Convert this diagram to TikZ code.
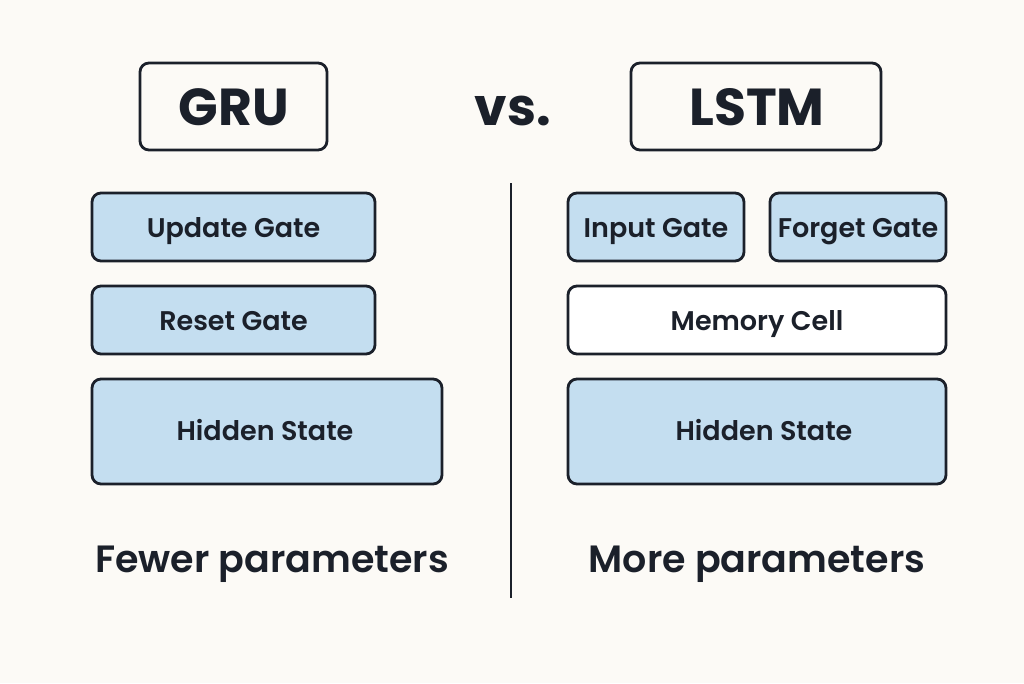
\documentclass[tikz,border=0pt]{standalone}
\usepackage{fontspec}
\setmainfont{Poppins}
\newfontfamily\semifont{Poppins SemiBold}
\definecolor{bg}{HTML}{FCFAF6}
\definecolor{ink}{HTML}{1B202A}
\definecolor{boxblue}{HTML}{C4DEF0}
\begin{document}
\begin{tikzpicture}[x=1pt,y=-1pt,
  box/.style={draw=ink,line width=2.8pt,rounded corners=9pt,inner sep=0pt},
  bluebox/.style={box,fill=boxblue},
  whitebox/.style={box,fill=white},
  lbl/.style={text=ink,anchor=base,font=\semifont\fontsize{27}{32}\selectfont},
  title/.style={text=ink,anchor=base,font=\fontsize{52}{58}\selectfont\bfseries},
  foot/.style={text=ink,anchor=base,font=\semifont\fontsize{38}{44}\selectfont}]
\fill[bg] (0,0) rectangle (1024,683);
\useasboundingbox (0,0) rectangle (1024,683);
% titles
\draw[box,fill=bg] (140,63) rectangle (327,150);
\node[title] (gru) at (234,125) {GRU};
\node[title] (vs) at (513,125) {vs.};
\draw[box,fill=bg] (631,63) rectangle (881,150);
\node[title] (lstm) at (757,125) {LSTM};
% divider
\draw[ink,line width=2.4pt] (511,183) -- (511,598);
% GRU boxes
\draw[bluebox] (92,193) rectangle (375,261);
\node[lbl] (upd) at (233.5,237) {Update Gate};
\draw[bluebox] (92,286) rectangle (375,354);
\node[lbl] (rst) at (233.5,330) {Reset Gate};
\draw[bluebox] (92,379) rectangle (442,484);
\node[lbl] (hsl) at (265,440) {Hidden State};
% LSTM boxes
\draw[bluebox] (568,193) rectangle (744,261);
\node[lbl] (inp) at (656,237) {Input Gate};
\draw[bluebox] (770,193) rectangle (946,261);
\node[lbl] (fgt) at (858,237) {Forget Gate};
\draw[whitebox] (568,286) rectangle (946,354);
\node[lbl] (mem) at (757,330) {Memory Cell};
\draw[bluebox] (568,379) rectangle (946,484);
\node[lbl] (hsr) at (764,440) {Hidden State};
% footers
\node[foot] (few) at (272,572) {Fewer parameters};
\node[foot] (more) at (757,572) {More parameters};
\end{tikzpicture}
\end{document}
